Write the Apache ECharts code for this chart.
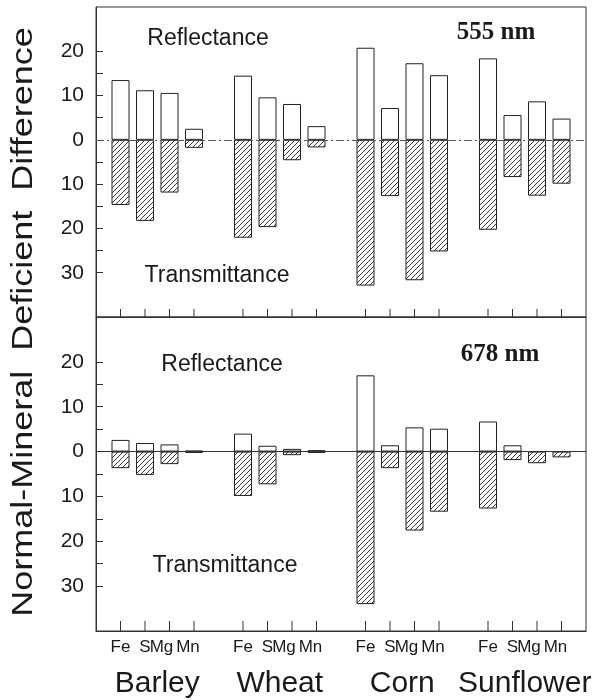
<!DOCTYPE html>
<html>
<head>
<meta charset="utf-8">
<script src="https://cdn.jsdelivr.net/npm/echarts@6/dist/echarts.min.js"></script>
<style>
html,body{margin:0;padding:0;background:#fff;}
#chart{width:599px;height:700px;}
</style>
</head>
<body>
<div id="chart"></div>
<script>
// ---- data ----
const crops = ['Barley', 'Wheat', 'Corn', 'Sunflower'];
const elements = ['Fe', 'S', 'Mg', 'Mn'];
const panelLabels = ['555 nm', '678 nm'];
const yTickLabels = [-30, -20, -10, 0, 10, 20];
const yTickMarks = [-30, -25, -20, -15, -10, -5, 0, 5, 10, 15, 20];
// order: crop by crop, Fe S Mg Mn
const refl555 = [13.5, 11.2, 10.6, 2.5, 14.5, 9.6, 8.1, 3.1, 20.8, 7.2, 17.3, 14.6, 18.4, 5.6, 8.7, 4.8];
const trans555 = [14.7, 18.3, 11.9, 1.8, 22.1, 19.7, 4.6, 1.7, 32.9, 12.7, 31.7, 25.2, 20.3, 8.4, 12.6, 9.9];
const refl678 = [2.6, 1.9, 1.6, 0.2, 4.0, 1.3, 0.6, 0.3, 17.0, 1.4, 5.4, 5.1, 6.7, 1.4, 0.0, 0.0];
const trans678 = [3.7, 5.2, 2.8, 0.3, 9.9, 7.3, 0.8, 0.3, 34.0, 3.7, 17.6, 13.4, 12.7, 1.9, 2.6, 1.3];

// ---- helpers ----
const slots = [];
crops.forEach((c, ci) => elements.forEach((e, ei) => slots.push(ci * (elements.length + 1) + ei)));
const slotName = {};
crops.forEach((c, ci) => elements.forEach((e, ei) => slotName[ci * (elements.length + 1) + ei] = e));
const cropCenters = crops.map((c, ci) => ci * (elements.length + 1) + (elements.length - 1) / 2);
const cropName = {};
cropCenters.forEach((v, i) => cropName[v] = crops[i]);

function hatch() {
  const s = 5;
  const cv = document.createElement('canvas');
  cv.width = s; cv.height = s;
  const g = cv.getContext('2d');
  g.fillStyle = '#fff';
  g.fillRect(0, 0, s, s);
  g.strokeStyle = '#3a3a3a';
  g.lineWidth = 1;
  g.beginPath();
  g.moveTo(-1, s + 1); g.lineTo(s + 1, -1);
  g.moveTo(-1, 1); g.lineTo(1, -1);
  g.moveTo(s - 1, s + 1); g.lineTo(s + 1, s - 1);
  g.stroke();
  return { image: cv, repeat: 'repeat' };
}
const hatchFill = hatch();

const SANS = "'Liberation Sans', Arial, Helvetica, sans-serif";
const SERIF = "'Liberation Serif', 'Times New Roman', serif";
const INK = '#1a1a1a';

const grids = [
  { left: 96, right: 13, top: 7, height: 310 },
  { left: 96, right: 13, top: 317, height: 314 }
];

function yAxisFor(i) {
  return {
    type: 'value', gridIndex: i, min: -40, max: 30,
    axisLine: { show: true, onZero: false, lineStyle: { color: '#333', width: 1 } },
    axisTick: { show: true, inside: true, length: 7, customValues: yTickMarks, lineStyle: { color: '#333' } },
    axisLabel: { customValues: yTickLabels, formatter: v => String(Math.abs(v)), fontFamily: SANS, fontSize: 21, color: INK, margin: 12 },
    splitLine: { show: false }
  };
}

// tick marks along the bottom edge of each panel, one per element slot
function slotTicks(i, len) {
  return {
    type: 'custom', xAxisIndex: i, yAxisIndex: i, silent: true, z: 5,
    data: slots.map(x => [x]),
    renderItem: (params, api) => {
      const p = api.coord([api.value(0), -40]);
      return { type: 'line', shape: { x1: p[0], y1: p[1], x2: p[0], y2: p[1] - len }, style: { stroke: '#333', lineWidth: 1 } };
    }
  };
}

const xAxes = [
  {
    type: 'value', gridIndex: 0, min: -1, max: 19,
    axisLine: { show: true, onZero: false, lineStyle: { color: '#333' } },
    axisTick: { show: false },
    axisLabel: { show: false }, splitLine: { show: false }
  },
  {
    type: 'value', gridIndex: 1, min: -1, max: 19,
    axisLine: { show: true, onZero: false, lineStyle: { color: '#333' } },
    axisTick: { show: false },
    axisLabel: {
      customValues: slots, margin: 8, fontFamily: SANS, fontSize: 17, color: INK,
      formatter: v => { const n = slotName[v]; return n === 'Mg' ? '{mg|Mg}' : n === 'Mn' ? '{mn|Mn}' : n; },
      rich: {
        mg: { fontFamily: SANS, fontSize: 17, color: INK, padding: [0, 16, 0, 0] },
        mn: { fontFamily: SANS, fontSize: 17, color: INK, padding: [0, 12, 0, 0] }
      }
    },
    splitLine: { show: false }
  },
  {
    type: 'value', gridIndex: 1, min: -1, max: 19, position: 'bottom',
    axisLine: { show: false, onZero: false }, axisTick: { show: false }, splitLine: { show: false },
    axisLabel: { customValues: cropCenters, formatter: v => cropName[v], margin: 38, fontFamily: SANS, fontSize: 30, color: INK }
  }
];

function barSeries(i, vals, sign, fill, zero) {
  const s = {
    type: 'bar', xAxisIndex: i, yAxisIndex: i, barWidth: 18, barGap: '-100%',
    data: vals.map((v, k) => [slots[k], sign * v]),
    itemStyle: { color: fill, borderColor: '#222', borderWidth: 1 },
    silent: true
  };
  if (zero) {
    s.markLine = {
      silent: true, symbol: ['none', 'none'], label: { show: false },
      lineStyle: zero, data: [{ yAxis: 0 }]
    };
  }
  return s;
}

const annot = (text, x, y, size, font, weight) => ({
  type: 'text', x: x, y: y,
  style: { text: text, font: (weight || 'normal') + ' ' + size + 'px ' + font, fill: INK, textAlign: 'center', textVerticalAlign: 'bottom' }
});

const option = {
  animation: false,
  backgroundColor: '#fff',
  grid: grids.map(g => Object.assign({ show: true, borderColor: '#333', borderWidth: 1, backgroundColor: 'transparent' }, g)),
  xAxis: xAxes,
  yAxis: [yAxisFor(0), yAxisFor(1)],
  series: [
    barSeries(0, refl555, 1, '#fff', null),
    barSeries(0, trans555, -1, hatchFill, { type: [8, 3, 2, 3], color: '#555', width: 1 }),
    barSeries(1, refl678, 1, '#fff', null),
    barSeries(1, trans678, -1, hatchFill, { type: 'solid', color: '#333', width: 1 }),
    slotTicks(0, 8),
    slotTicks(1, 10)
  ],
  graphic: [
    annot('Reflectance', 208, 50, 23, SANS),
    annot('Transmittance', 217, 287, 23, SANS),
    annot('Reflectance', 222, 376, 23, SANS),
    annot('Transmittance', 225, 577, 23, SANS),
    annot(panelLabels[0], 496, 45, 25, SERIF, 'bold'),
    annot(panelLabels[1], 500, 367, 25, SERIF, 'bold'),
    {
      type: 'text', x: 24, y: 322, rotation: Math.PI / 2, scaleX: 1.2,
      style: { text: 'Normal-Mineral  Deficient  Difference', font: 'normal 30px ' + SANS, fill: INK, textAlign: 'center', textVerticalAlign: 'middle' }
    }
  ]
};

const chart = echarts.init(document.getElementById('chart'), null, { renderer: 'canvas' });
chart.setOption(option);
</script>
</body>
</html>
